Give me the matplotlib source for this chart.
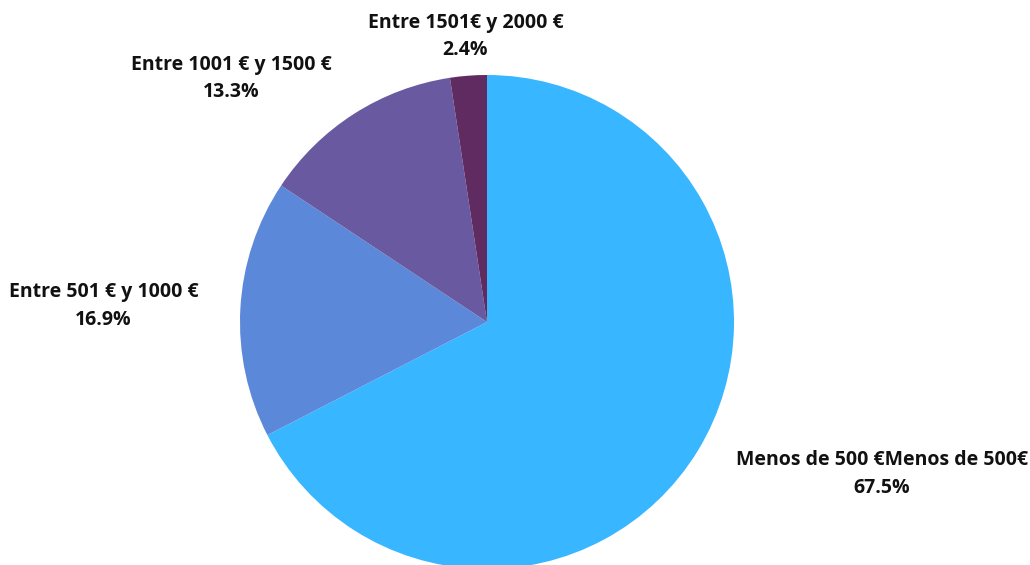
import numpy as np
import matplotlib
matplotlib.use("Agg")
import matplotlib.pyplot as plt

labels = ["Menos de 500 €Menos de 500€", "Entre 501 € y 1000 €",
          "Entre 1001 € y 1500 €", "Entre 1501€ y 2000 €"]
values = [67.5, 16.9, 13.3, 2.4]
colors = ["#38B6FF", "#5B88D9", "#6959A0", "#5F2B61"]

plt.rcParams['font.family'] = ['Open Sans', 'DejaVu Sans']

W, H = 1030, 565
fig = plt.figure(figsize=(W / 100, H / 100), dpi=100)
cx, cy, r = 487, 322, 247
ax = fig.add_axes([(cx - r) / W, (H - cy - r) / H, 2 * r / W, 2 * r / H])
ax.axis('off')

wedges, _ = ax.pie(values, colors=colors, startangle=90, counterclock=False,
                   radius=1, wedgeprops=dict(linewidth=0))
ax.set_xlim(-1, 1)
ax.set_ylim(-1, 1)
ax.set_aspect('equal')

for w, lab, v in zip(wedges, labels, values):
    ang = np.deg2rad((w.theta1 + w.theta2) / 2)
    c, s = np.cos(ang), np.sin(ang)
    if abs(c) < 0.2:
        ha, d = 'center', 1.16
    elif c > 0:
        ha, d = 'left', 1.18
    else:
        ha, d = 'right', 1.17
    ax.text(d * c, d * s, f"{lab}\n{v:.1f}%", ha=ha, va='center', multialignment='center',
            fontsize=14, fontweight='bold', color='#111111', linespacing=1.5,
            clip_on=False)

fig.savefig("out.png", dpi=100)
